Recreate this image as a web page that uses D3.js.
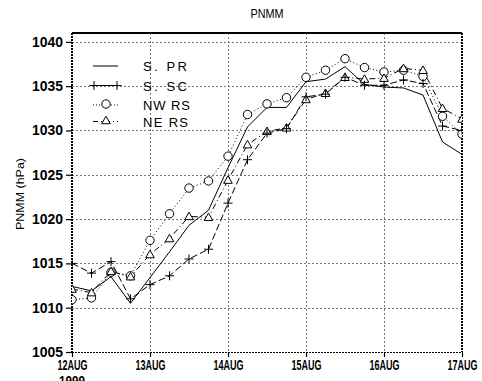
<!DOCTYPE html>
<html>

<head>
    <meta charset="UTF-8">
    <title>PNMM</title>
    <style>
        body { margin: 0; background: #fff; }
        text { font-family: "Liberation Sans", Arial, sans-serif; fill: #000; }
    </style>
</head>

<body>
    <script src="https://d3js.org/d3.v7.min.js"></script>

    <svg width="482" height="381"></svg>

    <script>
        let svg = d3.select("svg"),
            width = +svg.attr("width"),
            height = +svg.attr("height");

        // 6-hourly times, 12AUG 00Z to 17AUG 00Z 1999
        let times = [
            "1999-08-12T00", "1999-08-12T06", "1999-08-12T12", "1999-08-12T18",
            "1999-08-13T00", "1999-08-13T06", "1999-08-13T12", "1999-08-13T18",
            "1999-08-14T00", "1999-08-14T06", "1999-08-14T12", "1999-08-14T18",
            "1999-08-15T00", "1999-08-15T06", "1999-08-15T12", "1999-08-15T18",
            "1999-08-16T00", "1999-08-16T06", "1999-08-16T12", "1999-08-16T18",
            "1999-08-17T00"
        ];

        // sea level pressure (hPa) per region
        let s_pr = [1012.4, 1011.9, 1013.5, 1010.5, 1013.4, 1016.3, 1019.3, 1021.0, 1025.8, 1030.4, 1032.6,
            1032.6, 1035.5, 1035.8, 1037.2, 1035.2, 1034.9, 1034.8, 1034.0, 1028.7, 1027.3];
        let s_sc = [1015.0, 1013.9, 1015.2, 1011.0, 1012.6, 1013.6, 1015.5, 1016.6, 1021.8, 1026.7, 1029.7,
            1030.2, 1033.8, 1034.1, 1036.0, 1035.1, 1035.1, 1035.7, 1035.3, 1030.5, 1030.0];
        let nw_rs = [1010.9, 1011.1, 1014.0, 1013.6, 1017.6, 1020.6, 1023.5, 1024.3, 1027.1, 1031.8, 1033.0,
            1033.7, 1036.0, 1036.8, 1038.1, 1037.1, 1036.6, 1036.8, 1036.1, 1031.6, 1029.6];
        let ne_rs = [1012.1, 1011.7, 1014.1, 1013.5, 1016.0, 1017.8, 1020.3, 1020.2, 1024.4, 1028.4, 1029.9,
            1030.3, 1033.5, 1034.2, 1036.0, 1035.8, 1035.9, 1037.0, 1036.8, 1032.5, 1031.3];

        let y_ticks = [1005, 1010, 1015, 1020, 1025, 1030, 1035, 1040];
        let day_ticks = ["1999-08-12T00", "1999-08-13T00", "1999-08-14T00", "1999-08-15T00", "1999-08-16T00", "1999-08-17T00"];
        let day_labels = ["12AUG", "13AUG", "14AUG", "15AUG", "16AUG", "17AUG"];

        let parse_time = d3.timeParse("%Y-%m-%dT%H");

        // plot box
        let box_l = 72, box_r = 462, box_t = 33, box_b = 352;

        let x = d3.scaleTime()
            .domain([parse_time(times[0]), parse_time(times[times.length - 1])])
            .range([box_l, box_r]);
        let y = d3.scaleLinear().domain([1005, 1041]).range([box_b, box_t]);

        // series styles
        let series = [
            { name: "S. PR", values: s_pr, dash: null, leg_dash: null, mark: "none", tl: 44 },
            { name: "S. SC", values: s_sc, dash: "7,3", leg_dash: "20,3", mark: "plus", tl: 44 },
            { name: "NW RS", values: nw_rs, dash: "1,2.5", leg_dash: "1,2", mark: "circle", tl: 47 },
            { name: "NE RS", values: ne_rs, dash: "6,3,1,3", leg_dash: "5,3,1,3", mark: "triangle", tl: 45 }
        ];

        svg.append("defs").append("clipPath").attr("id", "plot-clip")
            .append("rect")
            .attr("x", box_l).attr("y", box_t)
            .attr("width", box_r - box_l).attr("height", box_b - box_t);

        // title
        svg.append("text")
            .attr("x", (box_l + box_r) / 2).attr("y", 18)
            .attr("text-anchor", "middle")
            .attr("font-size", 13)
            .attr("textLength", 33).attr("lengthAdjust", "spacingAndGlyphs")
            .text("PNMM");

        // y axis title
        svg.append("text")
            .attr("transform", "translate(24,194) rotate(-90)")
            .attr("text-anchor", "middle")
            .attr("font-size", 11)
            .attr("fill", "#222")
            .attr("textLength", 72).attr("lengthAdjust", "spacingAndGlyphs")
            .text("PNMM (hPa)");

        // grid
        let grid = svg.append("g").attr("class", "grid")
            .attr("stroke", "#777").attr("stroke-width", 1).attr("stroke-dasharray", "2,2");
        grid.selectAll("line.h")
            .data(y_ticks.filter(v => v > 1005))
            .enter().append("line")
            .attr("x1", box_l).attr("x2", box_r)
            .attr("y1", d => Math.round(y(d)) + 0.5).attr("y2", d => Math.round(y(d)) + 0.5);
        grid.selectAll("line.v")
            .data(day_ticks.slice(1, -1))
            .enter().append("line")
            .attr("x1", d => Math.round(x(parse_time(d))) + 0.5).attr("x2", d => Math.round(x(parse_time(d))) + 0.5)
            .attr("y1", box_t).attr("y2", box_b);

        // y axis
        let y_axis = d3.axisLeft(y).tickValues(y_ticks).tickFormat(d3.format("d")).tickSize(6).tickSizeOuter(0);
        let gy = svg.append("g").attr("transform", "translate(" + box_l + ",0)").call(y_axis);
        gy.select(".domain").remove();
        gy.selectAll("line").attr("stroke", "#000").attr("stroke-width", 1.2);
        gy.selectAll("text")
            .attr("font-size", 14).attr("font-weight", "bold")
            .attr("font-family", "Liberation Sans, Arial, sans-serif")
            .attr("x", -9)
            .attr("textLength", 31).attr("lengthAdjust", "spacingAndGlyphs");

        // x axis
        let x_axis = d3.axisBottom(x)
            .tickValues(day_ticks.map(parse_time))
            .tickFormat((d, i) => day_labels[i])
            .tickSize(5).tickSizeOuter(0);
        let gx = svg.append("g").attr("transform", "translate(0," + box_b + ")").call(x_axis);
        gx.select(".domain").remove();
        gx.selectAll("line").attr("stroke", "#000").attr("stroke-width", 1.2);
        gx.selectAll("text")
            .attr("font-size", 14).attr("font-weight", "bold")
            .attr("font-family", "Liberation Sans, Arial, sans-serif")
            .attr("y", 8)
            .attr("textLength", 30).attr("lengthAdjust", "spacingAndGlyphs");
        svg.append("text")
            .attr("x", box_l).attr("y", 386)
            .attr("text-anchor", "middle")
            .attr("font-size", 14).attr("font-weight", "bold")
            .attr("textLength", 26).attr("lengthAdjust", "spacingAndGlyphs")
            .text("1999");

        // frame
        let frame = svg.append("g").attr("fill", "none").attr("stroke", "#000");
        frame.append("line").attr("x1", box_l).attr("x2", box_r).attr("y1", box_t).attr("y2", box_t)
            .attr("stroke-width", 2);
        frame.append("line").attr("x1", box_l).attr("x2", box_r).attr("y1", box_b + 0.5).attr("y2", box_b + 0.5)
            .attr("stroke-width", 1.2).attr("stroke-dasharray", "2,1");
        frame.append("line").attr("x1", box_l).attr("x2", box_l).attr("y1", box_t).attr("y2", box_b)
            .attr("stroke-width", 2).attr("stroke-dasharray", "2,1");
        frame.append("line").attr("x1", box_r).attr("x2", box_r).attr("y1", box_t).attr("y2", box_b)
            .attr("stroke-width", 2).attr("stroke-dasharray", "2,1");

        // lines
        let line = d3.line()
            .x((d, i) => x(parse_time(times[i])))
            .y(d => y(d));

        let plot = svg.append("g").attr("clip-path", "url(#plot-clip)");
        series.forEach(s => {
            plot.append("path")
                .datum(s.values)
                .attr("fill", "none")
                .attr("stroke", "#000")
                .attr("stroke-width", 1)
                .attr("stroke-dasharray", s.dash)
                .attr("d", line);
        });

        // marker drawing
        function draw_mark(g, kind, cx, cy) {
            if (kind === "circle") {
                g.append("circle").attr("cx", cx).attr("cy", cy).attr("r", 4.2)
                    .attr("fill", "#fff").attr("stroke", "#000").attr("stroke-width", 1);
            } else if (kind === "triangle") {
                let s = 4.3;
                g.append("path")
                    .attr("d", "M" + cx + "," + (cy - s) + "L" + (cx + s) + "," + (cy + s * 0.75) +
                        "L" + (cx - s) + "," + (cy + s * 0.75) + "Z")
                    .attr("fill", "#fff").attr("stroke", "#000").attr("stroke-width", 1);
            } else if (kind === "plus") {
                let s = 4.5;
                g.append("path")
                    .attr("d", "M" + (cx - s) + "," + cy + "H" + (cx + s) + "M" + cx + "," + (cy - s) + "V" + (cy + s))
                    .attr("fill", "none").attr("stroke", "#000").attr("stroke-width", 1);
            }
        }

        ["circle", "triangle", "plus"].forEach(kind => {
            series.filter(s => s.mark === kind).forEach(s => {
                s.values.forEach((v, i) => draw_mark(plot, kind, x(parse_time(times[i])), y(v)));
            });
        });

        // legend
        let legend_y = [66, 85.5, 105, 121.5];
        let legend = svg.append("g");
        series.forEach((s, i) => {
            let ly = legend_y[i];
            legend.append("line")
                .attr("x1", 93).attr("x2", 118).attr("y1", ly).attr("y2", ly)
                .attr("stroke", "#000").attr("stroke-width", 1)
                .attr("stroke-dasharray", s.leg_dash);
            if (s.mark === "plus") {
                draw_mark(legend, "plus", 94, ly);
                draw_mark(legend, "plus", 117, ly);
            } else if (s.mark !== "none") {
                draw_mark(legend, s.mark, 106, ly - 1);
            }
            legend.append("text")
                .attr("x", 143).attr("y", ly + 5)
                .attr("font-size", 13)
                .attr("textLength", s.tl).attr("lengthAdjust", "spacing")
                .text(s.name);
        });
    </script>
</body>

</html>
